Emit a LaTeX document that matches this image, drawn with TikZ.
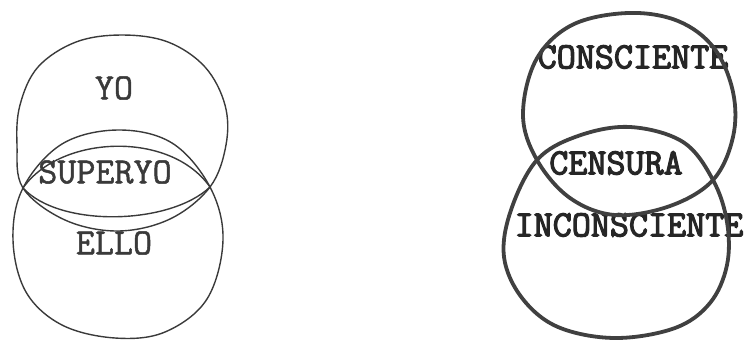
\documentclass[tikz,border=0pt]{standalone}
\definecolor{ink}{HTML}{3A3A3A}
\definecolor{inkdark}{HTML}{404040}
% heavier strokes for the typed labels
\newcommand\psyheavy[2]{\special{pdf:literal direct 2 Tr #1 w}#2\special{pdf:literal direct 0 Tr}}
\begin{document}
\begin{tikzpicture}[
  x=1pt, y=-1pt,
  psy01thin/.style = {ink, line width=1.4pt, line join=round},
  psy01thick/.style = {inkdark, line width=3.8pt, line join=round},
  psy01lbl/.style = {font=\ttfamily\fontsize{37}{37}\selectfont, text=ink, inner sep=0pt},
  psy01lblb/.style = {psy01lbl, text=black!85}
]
  \useasboundingbox (0,0) rectangle (747,341);
  % yo
  \draw[psy01thin] plot[smooth cycle, tension=0.6] coordinates {
    (122,35) (168,42) (205,67) (225,105) (226,145) (210,187) (170,219)
    (118,231) (65,220) (23,188) (17,145) (20,105) (38,67) (76,42)};
  % ello
  \draw[psy01thin] plot[smooth cycle, tension=0.6] coordinates {
    (118,130) (172,143) (210,187) (223,240) (207,299) (165,332)
    (115,338) (62,325) (26,292) (13,240) (23,188) (62,144)};
  % superyo
  \draw[psy01thin] (23,188) .. controls (60,135) and (170,130) .. (210,187)
    .. controls (170,225) and (60,228) .. (23,188);
  \node[psy01lbl] (yo) at (114,88) {\psyheavy{0.5}{YO}};
  \node[psy01lbl] (superyo) at (105,172) {\psyheavy{0.5}{SUPERYO}};
  \node[psy01lbl] (ello) at (114,243) {\psyheavy{0.5}{ELLO}};
  % consciente / inconsciente
  \node[psy01lblb] (consc) at (633,57) {\psyheavy{1.2}{CONSCIENTE}};
  \node[psy01lblb] (censura) at (616,163) {\psyheavy{1.2}{CENSURA}};
  \node[psy01lblb] (inconsc) at (629,225) {\psyheavy{1.2}{INCONSCIENTE}};
  \draw[psy01thick] plot[smooth cycle, tension=0.6] coordinates {
    (628,13) (678,21) (714,48) (733,92) (733,137) (713,180) (670,206)
    (615,215) (570,198) (537,160) (523,115) (536,60) (572,25)};
  \draw[psy01thick] plot[smooth cycle, tension=0.6] coordinates {
    (630,127) (683,142) (713,180) (727,222) (727,265) (710,303)
    (675,328) (615,338) (558,327) (522,298) (504,257) (511,210)
    (537,160) (578,136)};
\end{tikzpicture}
\end{document}
